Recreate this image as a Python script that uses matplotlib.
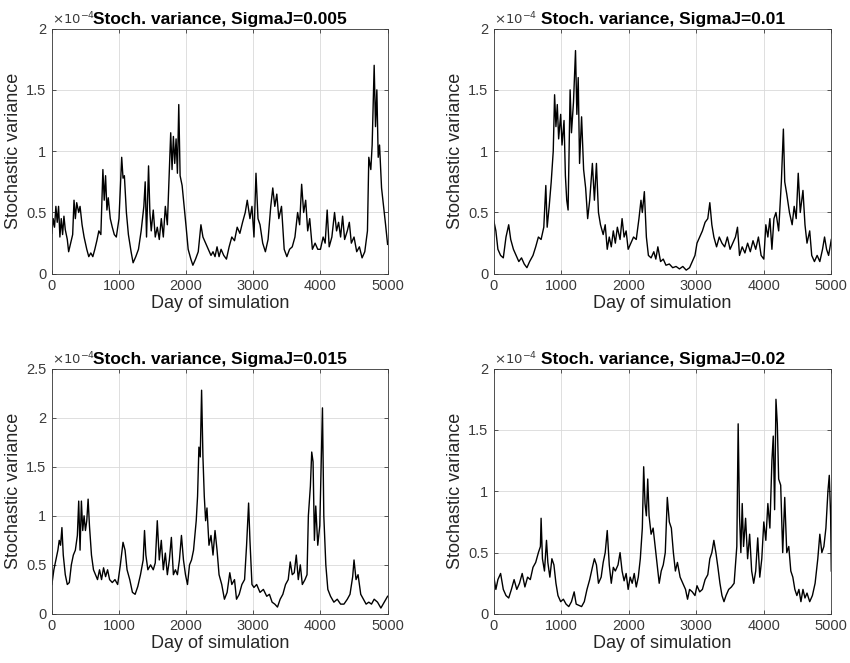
import matplotlib
matplotlib.use("Agg")
from matplotlib import pyplot as plt
from matplotlib.ticker import FuncFormatter
import numpy as np

plt.rcParams['font.family'] = ['Liberation Sans', 'DejaVu Sans']

titles = ["Stoch. variance, SigmaJ=0.005", "Stoch. variance, SigmaJ=0.01",
          "Stoch. variance, SigmaJ=0.015", "Stoch. variance, SigmaJ=0.02"]
y_max = [2, 2, 2.5, 2]
y_ticks = [[0, 0.5, 1, 1.5, 2], [0, 0.5, 1, 1.5, 2],
           [0, 0.5, 1, 1.5, 2, 2.5], [0, 0.5, 1, 1.5, 2]]
x_ticks = [0, 1000, 2000, 3000, 4000, 5000]

# values in units of 1e-4
p1 = [(0, 0.33), (20, 0.45), (40, 0.38), (60, 0.55), (80, 0.42), (100, 0.55), (120, 0.3),
      (140, 0.45), (160, 0.32), (180, 0.47), (200, 0.36), (230, 0.28), (250, 0.18), (280, 0.25),
      (310, 0.32), (330, 0.6), (350, 0.45), (370, 0.58), (400, 0.5), (420, 0.55), (450, 0.4),
      (480, 0.3), (520, 0.2), (550, 0.14), (580, 0.17), (610, 0.14), (640, 0.2), (670, 0.27),
      (700, 0.35), (730, 0.32), (760, 0.85), (780, 0.6), (800, 0.8), (820, 0.52), (840, 0.62),
      (870, 0.45), (900, 0.38), (930, 0.32), (960, 0.3), (1000, 0.45), (1040, 0.95), (1060, 0.78),
      (1080, 0.8), (1110, 0.5), (1140, 0.32), (1180, 0.18), (1210, 0.09), (1250, 0.14),
      (1290, 0.2), (1330, 0.35), (1370, 0.55), (1390, 0.75), (1410, 0.3), (1440, 0.88),
      (1460, 0.5), (1480, 0.35), (1510, 0.52), (1540, 0.3), (1570, 0.38), (1600, 0.28),
      (1630, 0.45), (1660, 0.3), (1690, 0.55), (1720, 0.4), (1750, 0.85), (1770, 1.15),
      (1790, 0.85), (1810, 1.12), (1830, 0.9), (1850, 1.1), (1870, 0.82), (1890, 1.38),
      (1910, 0.8), (1940, 0.72), (1970, 0.55), (2000, 0.38), (2030, 0.2), (2070, 0.12),
      (2100, 0.07), (2140, 0.12), (2180, 0.18), (2220, 0.4), (2250, 0.3), (2290, 0.25),
      (2330, 0.2), (2370, 0.15), (2400, 0.18), (2430, 0.14), (2460, 0.22), (2490, 0.14),
      (2520, 0.2), (2560, 0.15), (2600, 0.12), (2640, 0.22), (2680, 0.3), (2720, 0.27),
      (2760, 0.38), (2800, 0.33), (2840, 0.42), (2880, 0.5), (2910, 0.6), (2950, 0.45),
      (2980, 0.55), (3010, 0.3), (3040, 0.82), (3070, 0.45), (3100, 0.4), (3140, 0.25),
      (3180, 0.18), (3220, 0.28), (3260, 0.55), (3290, 0.7), (3320, 0.55), (3350, 0.65),
      (3380, 0.45), (3420, 0.55), (3460, 0.2), (3500, 0.14), (3540, 0.2), (3580, 0.22),
      (3620, 0.3), (3660, 0.5), (3690, 0.4), (3720, 0.73), (3750, 0.5), (3780, 0.6),
      (3810, 0.35), (3840, 0.45), (3880, 0.2), (3920, 0.25), (3960, 0.2), (4000, 0.2),
      (4040, 0.3), (4070, 0.25), (4100, 0.52), (4130, 0.22), (4170, 0.3), (4210, 0.5),
      (4240, 0.35), (4270, 0.42), (4300, 0.3), (4330, 0.47), (4360, 0.28), (4400, 0.35),
      (4430, 0.42), (4460, 0.25), (4500, 0.3), (4540, 0.18), (4580, 0.22), (4620, 0.13),
      (4660, 0.18), (4700, 0.35), (4720, 0.95), (4750, 0.85), (4770, 1.05), (4800, 1.7),
      (4820, 1.2), (4840, 1.5), (4860, 0.95), (4880, 1.05), (4910, 0.7), (4940, 0.55),
      (4970, 0.4), (5000, 0.24)]

p2 = [(0, 0.43), (30, 0.35), (60, 0.2), (100, 0.15), (140, 0.13), (180, 0.3), (220, 0.4),
      (250, 0.28), (290, 0.2), (330, 0.15), (370, 0.1), (410, 0.13), (450, 0.08), (490, 0.05),
      (530, 0.1), (580, 0.15), (620, 0.22), (660, 0.3), (700, 0.28), (740, 0.38), (770, 0.72),
      (790, 0.38), (820, 0.55), (850, 0.75), (880, 1.0), (900, 1.46), (920, 1.2), (940, 1.38),
      (960, 1.1), (990, 1.3), (1010, 1.05), (1040, 1.25), (1060, 0.8), (1080, 0.6), (1100, 0.52),
      (1130, 1.5), (1150, 1.15), (1180, 1.4), (1210, 1.82), (1230, 1.3), (1250, 1.6), (1270, 0.9),
      (1300, 1.28), (1330, 0.85), (1360, 0.7), (1390, 0.45), (1420, 0.6), (1460, 0.9), (1490, 0.6),
      (1520, 0.9), (1550, 0.5), (1580, 0.4), (1620, 0.32), (1650, 0.4), (1680, 0.2), (1710, 0.3),
      (1740, 0.22), (1770, 0.35), (1800, 0.25), (1830, 0.38), (1870, 0.28), (1900, 0.45),
      (1930, 0.3), (1960, 0.35), (1990, 0.2), (2030, 0.25), (2070, 0.3), (2110, 0.28),
      (2150, 0.45), (2180, 0.6), (2200, 0.5), (2230, 0.67), (2260, 0.3), (2290, 0.15),
      (2330, 0.13), (2370, 0.18), (2400, 0.12), (2430, 0.22), (2470, 0.1), (2510, 0.12),
      (2550, 0.07), (2600, 0.08), (2650, 0.05), (2700, 0.06), (2750, 0.04), (2800, 0.06),
      (2850, 0.03), (2900, 0.05), (2940, 0.1), (2980, 0.15), (3010, 0.25), (3050, 0.3),
      (3090, 0.35), (3130, 0.42), (3170, 0.45), (3200, 0.58), (3230, 0.4), (3260, 0.3),
      (3300, 0.22), (3340, 0.3), (3380, 0.25), (3420, 0.22), (3460, 0.3), (3500, 0.2),
      (3540, 0.25), (3580, 0.3), (3610, 0.38), (3640, 0.15), (3680, 0.22), (3720, 0.17),
      (3760, 0.25), (3800, 0.18), (3840, 0.27), (3880, 0.2), (3920, 0.3), (3960, 0.15),
      (4000, 0.12), (4030, 0.4), (4060, 0.3), (4090, 0.45), (4120, 0.2), (4150, 0.45),
      (4180, 0.5), (4220, 0.35), (4260, 0.75), (4290, 1.18), (4310, 0.75), (4340, 0.65),
      (4380, 0.5), (4420, 0.4), (4450, 0.55), (4480, 0.45), (4510, 0.82), (4540, 0.5),
      (4580, 0.68), (4610, 0.4), (4640, 0.25), (4680, 0.35), (4710, 0.15), (4750, 0.1),
      (4790, 0.15), (4830, 0.1), (4870, 0.2), (4900, 0.3), (4930, 0.2), (4960, 0.15), (5000, 0.28)]

p3 = [(0, 0.3), (30, 0.45), (60, 0.55), (90, 0.65), (110, 0.75), (130, 0.7), (150, 0.88),
      (170, 0.6), (200, 0.4), (230, 0.3), (260, 0.32), (290, 0.5), (320, 0.6), (350, 0.65),
      (380, 0.8), (400, 1.15), (420, 0.65), (440, 1.15), (460, 0.85), (480, 1.0), (500, 0.85),
      (520, 0.95), (540, 1.17), (560, 0.9), (590, 0.6), (620, 0.45), (650, 0.4), (680, 0.35),
      (710, 0.45), (740, 0.35), (770, 0.47), (800, 0.38), (830, 0.45), (860, 0.35), (900, 0.32),
      (940, 0.35), (980, 0.3), (1020, 0.5), (1060, 0.73), (1090, 0.65), (1120, 0.45), (1160, 0.35),
      (1200, 0.22), (1240, 0.2), (1280, 0.28), (1320, 0.4), (1360, 0.55), (1380, 0.85),
      (1400, 0.6), (1430, 0.45), (1470, 0.5), (1510, 0.45), (1540, 0.52), (1570, 0.95),
      (1600, 0.55), (1630, 0.75), (1660, 0.45), (1690, 0.62), (1720, 0.4), (1750, 0.55),
      (1780, 0.78), (1810, 0.4), (1840, 0.45), (1870, 0.4), (1900, 0.55), (1930, 0.8),
      (1960, 0.55), (1990, 0.4), (2020, 0.3), (2050, 0.5), (2080, 0.55), (2110, 0.65),
      (2150, 0.95), (2170, 1.2), (2190, 1.7), (2210, 1.6), (2230, 2.28), (2250, 1.6),
      (2270, 1.2), (2290, 0.95), (2310, 1.08), (2340, 0.7), (2370, 0.8), (2400, 0.6),
      (2430, 0.85), (2460, 0.65), (2490, 0.4), (2530, 0.3), (2570, 0.15), (2610, 0.22),
      (2650, 0.42), (2680, 0.3), (2720, 0.35), (2750, 0.15), (2790, 0.2), (2830, 0.3),
      (2870, 0.35), (2900, 0.7), (2930, 1.13), (2950, 0.75), (2980, 0.3), (3010, 0.27),
      (3050, 0.3), (3100, 0.22), (3150, 0.25), (3200, 0.18), (3240, 0.2), (3280, 0.12),
      (3320, 0.1), (3360, 0.07), (3400, 0.15), (3440, 0.2), (3480, 0.3), (3520, 0.35),
      (3550, 0.53), (3580, 0.4), (3610, 0.42), (3640, 0.6), (3670, 0.35), (3700, 0.5),
      (3730, 0.3), (3770, 0.35), (3800, 0.4), (3820, 1.0), (3850, 1.3), (3870, 1.65),
      (3890, 1.55), (3910, 0.75), (3930, 1.1), (3960, 0.7), (3990, 0.9), (4010, 1.5),
      (4030, 2.1), (4050, 1.0), (4080, 0.5), (4110, 0.25), (4150, 0.18), (4200, 0.12),
      (4250, 0.15), (4300, 0.1), (4350, 0.1), (4400, 0.15), (4440, 0.2), (4480, 0.38),
      (4500, 0.55), (4530, 0.35), (4560, 0.4), (4600, 0.2), (4640, 0.15), (4680, 0.1),
      (4720, 0.12), (4760, 0.1), (4800, 0.15), (4850, 0.12), (4900, 0.06), (4950, 0.12),
      (5000, 0.18)]

p4 = [(0, 0.3), (30, 0.2), (60, 0.28), (100, 0.33), (140, 0.2), (180, 0.15), (220, 0.13),
      (260, 0.2), (300, 0.28), (340, 0.2), (380, 0.25), (420, 0.33), (460, 0.22), (500, 0.3),
      (540, 0.28), (580, 0.38), (620, 0.42), (660, 0.5), (690, 0.55), (700, 0.78), (720, 0.45),
      (750, 0.35), (780, 0.6), (800, 0.42), (830, 0.3), (860, 0.45), (890, 0.4), (920, 0.25),
      (950, 0.15), (990, 0.1), (1030, 0.12), (1070, 0.08), (1110, 0.06), (1150, 0.1),
      (1190, 0.18), (1220, 0.08), (1260, 0.07), (1300, 0.06), (1340, 0.1), (1380, 0.2),
      (1420, 0.28), (1460, 0.38), (1490, 0.45), (1520, 0.4), (1550, 0.25), (1590, 0.3),
      (1620, 0.42), (1650, 0.5), (1680, 0.68), (1710, 0.4), (1740, 0.25), (1770, 0.38),
      (1800, 0.35), (1840, 0.4), (1870, 0.5), (1900, 0.35), (1930, 0.27), (1960, 0.33),
      (1990, 0.2), (2020, 0.3), (2050, 0.25), (2080, 0.33), (2110, 0.22), (2140, 0.3),
      (2170, 0.45), (2200, 0.7), (2220, 1.2), (2240, 0.9), (2260, 0.8), (2280, 1.1), (2300, 0.8),
      (2330, 0.65), (2360, 0.7), (2390, 0.55), (2420, 0.4), (2450, 0.25), (2480, 0.35),
      (2510, 0.4), (2540, 0.5), (2570, 0.95), (2600, 0.75), (2630, 0.7), (2660, 0.5),
      (2690, 0.35), (2720, 0.42), (2760, 0.3), (2800, 0.25), (2840, 0.2), (2870, 0.12),
      (2900, 0.2), (2940, 0.18), (2980, 0.15), (3010, 0.23), (3050, 0.18), (3090, 0.2),
      (3130, 0.28), (3170, 0.32), (3200, 0.45), (3230, 0.5), (3260, 0.6), (3290, 0.5),
      (3320, 0.38), (3350, 0.25), (3380, 0.15), (3410, 0.1), (3440, 0.15), (3480, 0.2),
      (3520, 0.22), (3560, 0.25), (3600, 0.55), (3620, 1.55), (3640, 0.8), (3660, 0.5),
      (3680, 0.9), (3700, 0.55), (3730, 0.78), (3760, 0.45), (3790, 0.65), (3820, 0.35),
      (3850, 0.25), (3880, 0.35), (3910, 0.62), (3940, 0.3), (3970, 0.45), (4000, 0.75),
      (4030, 0.6), (4060, 0.9), (4090, 0.7), (4120, 1.25), (4140, 1.45), (4160, 0.85),
      (4180, 1.75), (4200, 1.55), (4220, 1.1), (4250, 1.05), (4280, 0.5), (4310, 0.95),
      (4340, 0.5), (4370, 0.55), (4400, 0.35), (4430, 0.3), (4460, 0.2), (4490, 0.15),
      (4520, 0.2), (4550, 0.1), (4580, 0.2), (4610, 0.13), (4640, 0.17), (4680, 0.1),
      (4720, 0.15), (4760, 0.25), (4800, 0.45), (4830, 0.65), (4860, 0.5), (4890, 0.55),
      (4920, 0.7), (4950, 1.0), (4970, 1.13), (4990, 0.8), (5000, 0.35)]

series = [p1, p2, p3, p4]

fig = plt.figure(figsize=(8.5, 6.63), dpi=100)
positions = [[0.061, 0.587, 0.395, 0.370], [0.581, 0.587, 0.397, 0.370],
             [0.061, 0.074, 0.395, 0.370], [0.581, 0.074, 0.397, 0.370]]

for i in range(4):
    ax = fig.add_axes(positions[i])
    d = np.array(series[i])
    ax.plot(d[:, 0], d[:, 1], color='black', linewidth=1.0)
    ax.set_xlim(0, 5000)
    ax.set_ylim(0, y_max[i])
    ax.set_xticks(x_ticks)
    ax.set_yticks(y_ticks[i])
    ax.yaxis.set_major_formatter(FuncFormatter(lambda v, p: '%g' % v))
    ax.grid(True, color='#d9d9d9', linewidth=0.6)
    ax.set_axisbelow(True)
    ax.tick_params(direction='in', length=3, width=0.6, colors='#3a3a3a',
                   labelsize=10.5, top=True, right=True, pad=4)
    for s in ax.spines.values():
        s.set_color('#3a3a3a')
        s.set_linewidth(0.6)
    ax.set_xlabel('Day of simulation', fontsize=13, color='#262626', labelpad=1)
    ax.set_ylabel('Stochastic variance', fontsize=13, color='#262626', labelpad=3)
    ax.set_title(titles[i], fontsize=12.5, fontweight='bold', pad=3)
    ax.text(0.0, 1.005, r'$\times 10^{-4}$', transform=ax.transAxes, fontsize=9.5,
            color='#3a3a3a', ha='left', va='bottom')

fig.savefig('out.png', dpi=100)
